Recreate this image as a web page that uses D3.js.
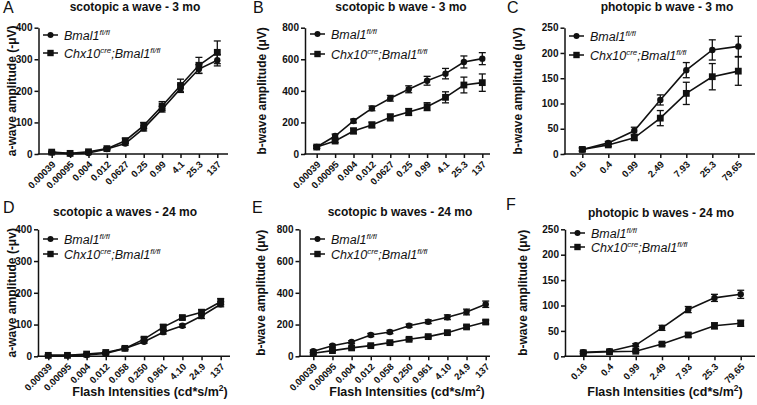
<!DOCTYPE html>
<html><head><meta charset="utf-8">
<script src="https://cdn.jsdelivr.net/npm/d3@7"></script>
<style>body{margin:0;background:#fff} text{font-family:'Liberation Sans',Arial,sans-serif;fill:#111}</style>
</head><body><svg id="c" width="757" height="405"></svg>
<script>
// ---------- data ----------
const cats3mo = ["0.00039","0.00095","0.004","0.012","0.0627","0.25","0.99","4.1","25.3","137"];
const cats24mo = ["0.00039","0.00095","0.004","0.012","0.058","0.250","0.961","4.10","24.9","137"];
const catsPhot = ["0.16","0.4","0.99","2.49","7.93","25.3","79.65"];

const aWave3Ctrl = [5, 1, 3, 16, 33, 81, 142, 207, 269, 297];
const aWave3CtrlErr = [2, 2, 2, 3, 5, 8, 9, 12, 14, 18];
const aWave3Cko = [6, 2, 7, 17, 42, 90, 152, 217, 281, 322];
const aWave3CkoErr = [3, 2, 3, 3, 8, 10, 14, 20, 25, 36];

const bWave3Ctrl = [44, 114, 209, 289, 353, 410, 464, 509, 583, 604];
const bWave3CtrlErr = [8, 12, 12, 15, 18, 22, 28, 33, 38, 38];
const bWave3Cko = [44, 82, 146, 184, 232, 266, 300, 359, 437, 452];
const bWave3CkoErr = [8, 10, 18, 18, 22, 22, 25, 35, 50, 55];

const photB3Ctrl = [9, 22, 46, 107, 166, 206, 213];
const photB3CtrlErr = [3, 3, 7, 10, 15, 20, 20];
const photB3Cko = [9, 18, 32, 71, 120, 153, 164];
const photB3CkoErr = [3, 3, 5, 15, 22, 26, 28];

const aWave24Ctrl = [3, 3, 4, 9, 25, 46, 76, 96, 127, 164];
const aWave24CtrlErr = [2, 2, 2, 3, 4, 5, 6, 5, 8, 8];
const aWave24Cko = [3, 3, 7, 12, 25, 54, 92, 122, 139, 172];
const aWave24CkoErr = [2, 2, 2, 3, 4, 6, 8, 5, 8, 10];

const bWave24Ctrl = [32, 67, 90, 134, 153, 193, 218, 246, 279, 328];
const bWave24CtrlErr = [8, 8, 8, 10, 10, 10, 12, 15, 18, 20];
const bWave24Cko = [19, 36, 53, 67, 86, 107, 124, 149, 185, 216];
const bWave24CkoErr = [6, 6, 6, 6, 8, 8, 8, 10, 10, 12];

const photB24Ctrl = [8, 10, 22, 56, 92, 115, 122];
const photB24CtrlErr = [2, 2, 3, 5, 6, 7, 8];
const photB24Cko = [7, 9, 10, 24, 42, 60, 65];
const photB24CkoErr = [2, 2, 2, 3, 4, 6, 6];

const ticks400 = [0, 100, 200, 300, 400];
const ticks800 = [0, 200, 400, 600, 800];
const ticks250 = [0, 50, 100, 150, 200, 250];

const xTitle = "Flash Intensities (cd*s/m";

// ---------- panels ----------
const panels = [
  {letter:"A", title:"scotopic a wave - 3 mo", ylab:"a-wave amplitude (-\u03BCV)", cats:cats3mo, yMax:400, ticks:ticks400,
   ctrl:aWave3Ctrl, ctrlErr:aWave3CtrlErr, cko:aWave3Cko, ckoErr:aWave3CkoErr,
   L:{lx:3, ly:13, tx:135, ty:11, x0:38.5, x1:228, c0:51.7, c1:217.3, yTop:27.7, yBot:154, yl:12, lgx:43, lgy:35, lgdy:18}},
  {letter:"B", title:"scotopic b wave - 3 mo", ylab:"b-wave amplitude (\u03BCV)", cats:cats3mo, yMax:800, ticks:ticks800,
   ctrl:bWave3Ctrl, ctrlErr:bWave3CtrlErr, cko:bWave3Cko, ckoErr:bWave3CkoErr,
   L:{lx:253, ly:13, tx:401, ty:11, x0:305, x1:490, c0:316.7, c1:482.3, yTop:27.7, yBot:154, yl:262, lgx:310, lgy:34, lgdy:20}},
  {letter:"C", title:"photopic b wave - 3 mo", ylab:"b-wave amplitude (\u03BCV)", cats:catsPhot, yMax:250, ticks:ticks250,
   ctrl:photB3Ctrl, ctrlErr:photB3CtrlErr, cko:photB3Cko, ckoErr:photB3CkoErr,
   L:{lx:507, ly:13, tx:667, ty:11, x0:564.5, x1:755, c0:582.3, c1:738.3, yTop:27.7, yBot:154, yl:518, lgx:569, lgy:36, lgdy:19}},
  {letter:"D", title:"scotopic a waves - 24 mo", ylab:"a-wave amplitude (-\u03BCv)", cats:cats24mo, yMax:400, ticks:ticks400,
   ctrl:aWave24Ctrl, ctrlErr:aWave24CtrlErr, cko:aWave24Cko, ckoErr:aWave24CkoErr, xlab:true,
   L:{lx:3, ly:213, tx:125, ty:216, x0:38, x1:230, c0:48.3, c1:220.7, yTop:229.3, yBot:356.3, yl:12, lgx:43, lgy:239, lgdy:15, xlx:150}},
  {letter:"E", title:"scotopic b waves - 24 mo", ylab:"b-wave amplitude (\u03BCv)", cats:cats24mo, yMax:800, ticks:ticks800,
   ctrl:bWave24Ctrl, ctrlErr:bWave24CtrlErr, cko:bWave24Cko, ckoErr:bWave24CkoErr, xlab:true,
   L:{lx:252, ly:213, tx:400, ty:216, x0:299.5, x1:490, c0:313.3, c1:485.7, yTop:229.3, yBot:356.3, yl:261, lgx:310, lgy:239, lgdy:15, xlx:407}},
  {letter:"F", title:"photopic b waves - 24 mo", ylab:"b-wave amplitude (\u03BCv)", cats:catsPhot, yMax:250, ticks:ticks250,
   ctrl:photB24Ctrl, ctrlErr:photB24CtrlErr, cko:photB24Cko, ckoErr:photB24CkoErr, xlab:true,
   L:{lx:506, ly:210, tx:661, ty:217, x0:565, x1:755, c0:583.3, c1:740.7, yTop:229.3, yBot:356.3, yl:523, lgx:570, lgy:233, lgdy:14, xlx:665}}
];

const svg = d3.select("#c");
const FF = "'Liberation Sans',Arial,sans-serif";

function drawPanel(p) {
  const L = p.L;
  const g = svg.append("g");
  const x = d3.scalePoint().domain(p.cats).range([L.c0, L.c1]);
  const y = d3.scaleLinear().domain([0, p.yMax]).range([L.yBot, L.yTop]);

  // letter & title
  g.append("text").attr("x", L.lx).attr("y", L.ly).attr("font-size", 16).text(p.letter);
  g.append("text").attr("x", L.tx).attr("y", L.ty).attr("text-anchor", "middle")
    .attr("font-size", 12).attr("font-weight", "bold").text(p.title);

  // y axis
  const ya = g.append("g").attr("transform", `translate(${L.x0},0)`)
    .call(d3.axisLeft(y).tickValues(p.ticks).tickSize(4).tickSizeOuter(0).tickPadding(2));
  ya.select(".domain").attr("stroke-width", 1.5).attr("stroke", "#111");
  ya.selectAll(".tick line").attr("stroke-width", 1.5).attr("stroke", "#111");
  ya.selectAll("text").attr("font-size", 10).attr("font-weight", "bold")
    .attr("font-family", FF).attr("fill", "#111");

  // x axis
  const xa = g.append("g").attr("transform", `translate(0,${L.yBot})`)
    .call(d3.axisBottom(x).tickSize(4).tickSizeOuter(0).tickPadding(2));
  xa.select(".domain").remove();
  xa.append("line").attr("x1", L.x0 - 0.75).attr("x2", L.x1).attr("stroke", "#111").attr("stroke-width", 1.5);
  xa.selectAll(".tick line").attr("stroke-width", 1.5).attr("stroke", "#111");
  xa.selectAll(".tick text").attr("font-size", 9.5).attr("font-weight", "bold")
    .attr("font-family", FF).attr("fill", "#111")
    .attr("text-anchor", "end").attr("x", 0).attr("y", 0).attr("dy", 0)
    .attr("transform", "translate(4,11) rotate(-45)");

  // y label
  g.append("text").attr("transform", `translate(${L.yl},${(L.yTop + L.yBot) / 2}) rotate(-90)`)
    .attr("text-anchor", "middle").attr("dy", "0.35em").attr("font-size", 12).attr("font-weight", "bold").text(p.ylab);

  // x label
  if (p.xlab) {
    const t = g.append("text").attr("x", L.xlx).attr("y", 396).attr("text-anchor", "middle")
      .attr("font-size", 12.5).attr("font-weight", "bold");
    t.append("tspan").text(xTitle);
    t.append("tspan").attr("font-size", 8.5).attr("dy", -5).text("2");
    t.append("tspan").attr("dy", 5).text(")");
  }

  // series
  const series = [
    {v: p.ctrl, e: p.ctrlErr, shape: "circle"},
    {v: p.cko, e: p.ckoErr, shape: "square"}
  ];
  const line = d3.line().x((d, i) => x(p.cats[i])).y(d => y(d));
  series.forEach(s => {
    const sg = g.append("g");
    s.v.forEach((v, i) => {
      const cx = x(p.cats[i]);
      const lo = y(Math.max(0, v - s.e[i])), hi = y(v + s.e[i]);
      sg.append("line").attr("x1", cx).attr("x2", cx).attr("y1", lo).attr("y2", hi).attr("stroke", "#111").attr("stroke-width", 1.3);
      [lo, hi].forEach(yy => sg.append("line").attr("x1", cx - 3.5).attr("x2", cx + 3.5).attr("y1", yy).attr("y2", yy)
        .attr("stroke", "#111").attr("stroke-width", 1.3));
    });
    sg.append("path").attr("d", line(s.v)).attr("fill", "none").attr("stroke", "#111").attr("stroke-width", 1.6);
    s.v.forEach((v, i) => {
      const cx = x(p.cats[i]), cy = y(v);
      if (s.shape === "circle") sg.append("circle").attr("cx", cx).attr("cy", cy).attr("r", 3.2).attr("fill", "#111");
      else sg.append("rect").attr("x", cx - 3.4).attr("y", cy - 3.4).attr("width", 6.8).attr("height", 6.8).attr("fill", "#111");
    });
  });

  // legend
  const lg = g.append("g");
  const labels = [
    {shape: "circle", parts: [["Bmal1", 0], ["fl/fl", 1]]},
    {shape: "square", parts: [["Chx10", 0], ["cre", 1], [";Bmal1", 0], ["fl/fl", 1]]}
  ];
  labels.forEach((lb, k) => {
    const yy = L.lgy + k * L.lgdy;
    lg.append("line").attr("x1", L.lgx).attr("x2", L.lgx + 15).attr("y1", yy).attr("y2", yy).attr("stroke", "#111").attr("stroke-width", 1.5);
    if (lb.shape === "circle") lg.append("circle").attr("cx", L.lgx + 7.5).attr("cy", yy).attr("r", 3).attr("fill", "#111");
    else lg.append("rect").attr("x", L.lgx + 4.3).attr("y", yy - 3.2).attr("width", 6.4).attr("height", 6.4).attr("fill", "#111");
    const t = lg.append("text").attr("x", L.lgx + 21).attr("y", yy + 4.5).attr("font-size", 12.5).attr("font-style", "italic");
    let up = false;
    lb.parts.forEach(([s, sup]) => {
      const ts = t.append("tspan").text(s);
      if (sup && !up) { ts.attr("font-size", 8).attr("dy", -5); up = true; }
      else if (!sup && up) { ts.attr("dy", 5); up = false; }
      else if (sup) ts.attr("font-size", 8);
    });
  });
}

panels.forEach(drawPanel);
</script>
</body></html>
